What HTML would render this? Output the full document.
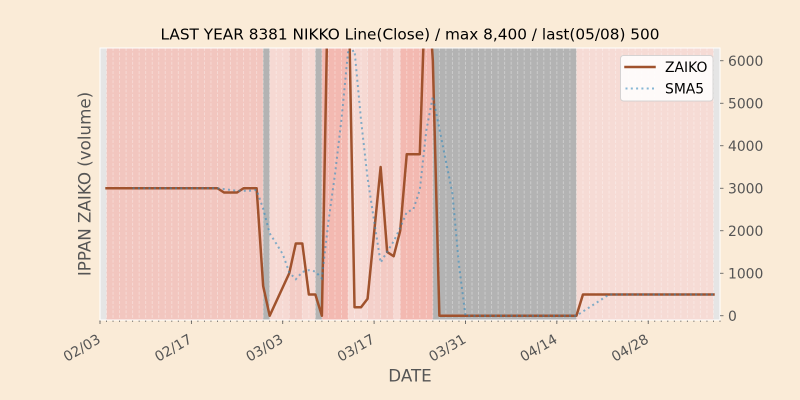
<!DOCTYPE html>
<html><head><meta charset="utf-8"><style>
html,body{margin:0;padding:0;background:#FAEBD7;}
svg{display:block;}
text{font-family:"DejaVu Sans","Liberation Sans",sans-serif;}
</style></head><body>
<svg width="800" height="400" viewBox="0 0 800 400" xmlns="http://www.w3.org/2000/svg">
<defs>
<clipPath id="cp"><rect x="100" y="48" width="620" height="272"/></clipPath>
<pattern id="grid" x="96.737" y="48" width="6.5263" height="272" patternUnits="userSpaceOnUse">
<line x1="3.263" y1="0" x2="3.263" y2="272" stroke="#ffffff" stroke-opacity="0.4" stroke-width="0.8" stroke-dasharray="3,1.6"/>
</pattern>
<pattern id="mt" x="96.737" y="320" width="6.5263" height="4" patternUnits="userSpaceOnUse">
<line x1="3.263" y1="0" x2="3.263" y2="2" stroke="#555555" stroke-width="0.7"/>
</pattern>
</defs>
<rect x="0" y="0" width="800" height="400" fill="#FAEBD7"/>
<rect x="100" y="48" width="620" height="272" fill="#E5E5E5"/>
<g>
<rect x="106.53" y="48" width="156.63" height="272" fill="#f2c6bf"/>
<rect x="263.16" y="48" width="6.52" height="272" fill="#b3b3b3"/>
<rect x="269.68" y="48" width="19.58" height="272" fill="#f6d9d3"/>
<rect x="289.26" y="48" width="13.06" height="272" fill="#f3ccc5"/>
<rect x="302.32" y="48" width="13.05" height="272" fill="#f6d9d3"/>
<rect x="315.37" y="48" width="6.52" height="272" fill="#b3b3b3"/>
<rect x="321.89" y="48" width="26.11" height="272" fill="#f3b9b1"/>
<rect x="348.00" y="48" width="19.58" height="272" fill="#f6d9d3"/>
<rect x="367.58" y="48" width="13.05" height="272" fill="#f4d0ca"/>
<rect x="380.63" y="48" width="13.05" height="272" fill="#f3cac3"/>
<rect x="393.68" y="48" width="6.53" height="272" fill="#f6d9d3"/>
<rect x="400.21" y="48" width="32.63" height="272" fill="#f3b9b1"/>
<rect x="432.84" y="48" width="143.58" height="272" fill="#b3b3b3"/>
<rect x="576.42" y="48" width="137.05" height="272" fill="#f6dbd5"/>
</g>
<rect x="100" y="48" width="620" height="272" fill="url(#grid)"/>
<g clip-path="url(#cp)">
<path d="M106.53,188.25 L217.47,188.25 L224,192.5 L237.05,192.5 L243.58,188.25 L256.63,188.25 L263.16,286 L269.68,315.75 L289.26,273.25 L295.79,243.5 L302.32,243.5 L308.84,294.5 L315.37,294.5 L321.89,315.75 L328.42,-41.25 L334.95,9.75 L341.47,18.25 L348,-41.25 L354.53,307.25 L361.05,307.25 L367.58,298.75 L374.1,232.88 L380.63,167 L387.16,252 L393.68,256.25 L400.21,230.75 L406.74,154.25 L419.79,154.25 L426.32,-41.25 L432.84,60.75 L439.37,315.75 L576.42,315.75 L582.95,294.5 L713.47,294.5" fill="none" stroke="#a0522d" stroke-width="2.5" stroke-linejoin="round" stroke-linecap="square"/>
<path d="M132.63,188.25 L217.47,188.25 L224,189.1 L230.53,189.95 L237.05,190.8 L250.1,190.8 L256.63,189.95 L263.16,208.65 L269.68,233.3 L276.21,243.5 L282.74,254.1 L289.26,272.4 L295.79,279.3 L302.32,272 L308.84,270.1 L315.37,271.55 L321.89,278.35 L328.42,221.4 L334.95,174.65 L341.47,119.4 L348,52.25 L354.53,50.55 L361.05,120.25 L367.58,178.05 L374.1,220.98 L380.63,262.63 L387.16,251.58 L393.68,241.38 L400.21,227.78 L406.74,212.05 L413.26,209.5 L419.79,189.95 L426.32,130.45 L432.84,96.45 L439.37,128.75 L445.89,161.05 L452.42,193.35 L458.95,264.75 L465.47,315.75 L576.42,315.75 L582.95,311.5 L589.47,307.25 L596,303 L602.53,298.75 L609.05,294.5 L713.47,294.5" fill="none" stroke="#348ABD" stroke-opacity="0.6" stroke-width="2" stroke-dasharray="2,3.3"/>
</g>
<rect x="100" y="48" width="620" height="272" fill="none" stroke="#ffffff" stroke-width="1"/>
<rect x="99" y="320.5" width="622" height="2" fill="url(#mt)"/>
<g stroke="#555555" stroke-width="0.8">
<line x1="100" y1="320.5" x2="100" y2="324"/>
<line x1="191.37" y1="320.5" x2="191.37" y2="324"/>
<line x1="282.74" y1="320.5" x2="282.74" y2="324"/>
<line x1="374.10" y1="320.5" x2="374.10" y2="324"/>
<line x1="465.47" y1="320.5" x2="465.47" y2="324"/>
<line x1="556.84" y1="320.5" x2="556.84" y2="324"/>
<line x1="648.21" y1="320.5" x2="648.21" y2="324"/>
</g>
<g font-size="13.9" fill="#555555" text-anchor="end">
<text x="101.5" y="342" transform="rotate(-30 101.5 342)">02/03</text>
<text x="192.9" y="342" transform="rotate(-30 192.9 342)">02/17</text>
<text x="284.2" y="342" transform="rotate(-30 284.2 342)">03/03</text>
<text x="375.6" y="342" transform="rotate(-30 375.6 342)">03/17</text>
<text x="467.0" y="342" transform="rotate(-30 467.0 342)">03/31</text>
<text x="558.3" y="342" transform="rotate(-30 558.3 342)">04/14</text>
<text x="649.7" y="342" transform="rotate(-30 649.7 342)">04/28</text>
</g>
<g stroke="#555555" stroke-width="0.8">
<line x1="720" y1="315.75" x2="723.5" y2="315.75"/>
<line x1="720" y1="273.25" x2="723.5" y2="273.25"/>
<line x1="720" y1="230.75" x2="723.5" y2="230.75"/>
<line x1="720" y1="188.25" x2="723.5" y2="188.25"/>
<line x1="720" y1="145.75" x2="723.5" y2="145.75"/>
<line x1="720" y1="103.25" x2="723.5" y2="103.25"/>
<line x1="720" y1="60.75" x2="723.5" y2="60.75"/>
</g>
<g font-size="13.9" fill="#555555">
<text x="728" y="320.8">0</text>
<text x="728" y="278.3">1000</text>
<text x="728" y="235.8">2000</text>
<text x="728" y="193.3">3000</text>
<text x="728" y="150.8">4000</text>
<text x="728" y="108.3">5000</text>
<text x="728" y="65.8">6000</text>
</g>
<rect x="620.5" y="55.5" width="92.5" height="45.5" rx="3" ry="3" fill="#ffffff" fill-opacity="0.85" stroke="#cccccc" stroke-opacity="0.8" stroke-width="1"/>
<line x1="625.5" y1="67" x2="654.5" y2="67" stroke="#a0522d" stroke-width="2.5" stroke-linecap="square"/>
<line x1="625.5" y1="88.5" x2="656" y2="88.5" stroke="#348ABD" stroke-opacity="0.6" stroke-width="2" stroke-dasharray="2,3.3"/>
<g font-size="13.9" fill="#000000">
<text x="665" y="72">ZAIKO</text>
<text x="665" y="93.5">SMA5</text>
</g>
<text x="410" y="39.7" font-size="15.3" fill="#000000" text-anchor="middle">LAST YEAR 8381 NIKKO Line(Close) / max 8,400 / last(05/08) 500</text>
<text x="410" y="381.5" font-size="16.7" fill="#555555" text-anchor="middle">DATE</text>
<text x="90.5" y="184" font-size="16.7" fill="#555555" text-anchor="middle" transform="rotate(-90 90.5 184)">IPPAN ZAIKO (volume)</text>
</svg>
</body></html>
